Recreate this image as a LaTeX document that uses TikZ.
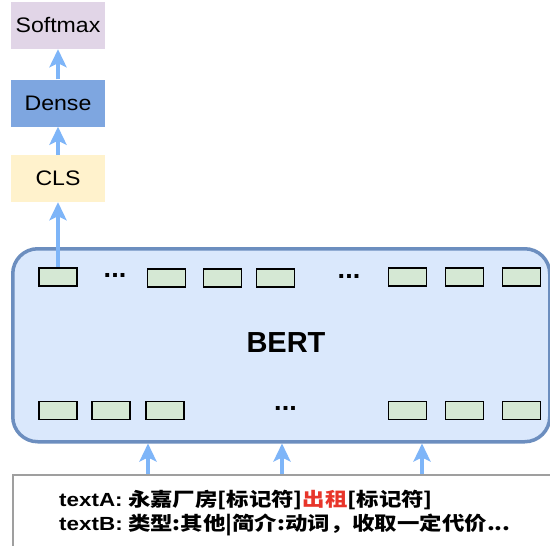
\documentclass[tikz,border=0pt]{standalone}
\usepackage{fontspec}
\usepackage{xcolor}
\setmainfont{Liberation Sans}
\newfontfamily\zhfont{Noto Sans CJK SC}[FakeStretch=1.18]
\newfontfamily\latwide{Liberation Sans}[FakeStretch=1.18]
\newfontfamily\headfont{Liberation Sans}[FakeStretch=1.1]
\usetikzlibrary{arrows.meta}
\definecolor{smaxfill}{HTML}{E1D5E7}
\definecolor{densefill}{HTML}{7EA6E0}
\definecolor{clsfill}{HTML}{FFF2CC}
\definecolor{bertfill}{HTML}{DAE8FC}
\definecolor{bertline}{HTML}{6C8EBF}
\definecolor{tokfill}{HTML}{D5E8D4}
\definecolor{arrowblue}{HTML}{7EB5F8}
\definecolor{hotred}{HTML}{E8352A}

\begin{document}
\begin{tikzpicture}[x=1pt, y=-1pt,
  head/.style={fill, minimum width=94pt, minimum height=47pt, inner sep=0pt, font=\headfont\fontsize{21}{21}\selectfont},
  tok/.style={draw, fill=tokfill, line width=1.6pt, minimum width=38pt, minimum height=18pt, inner sep=0pt},
  dots/.style={font=\fontsize{27}{27}\selectfont\bfseries, inner sep=0pt},
  arr/.style={-{Stealth[length=18pt, width=17pt, inset=4pt]}, line width=3.5pt, arrowblue}
]
\useasboundingbox[fill=white] (0,0) rectangle (550,546);
\node[head, fill=smaxfill] (smax) at (58,25.5) {Softmax};
\node[head, fill=densefill] (dense) at (58,103) {Dense};
\node[head, fill=clsfill] (cls) at (58,178.5) {CLS};
\node[draw=bertline, fill=bertfill, line width=3.5pt, rounded corners=25pt, anchor=north west,
  minimum width=537pt, minimum height=193pt] (bert) at (11,247) {};
\node[font=\fontsize{29}{29}\selectfont\bfseries] (bertlbl) at (286,343) {BERT};
\node[tok] (t1) at (58,277) {};
\node[dots] (td1) at (115,275) {...};
\node[tok] (t2) at (166.5,278) {};
\node[tok] (t3) at (222.5,278) {};
\node[tok] (t4) at (275.5,278) {};
\node[dots] (td2) at (349,276) {...};
\node[tok] (t5) at (407.5,277) {};
\node[tok] (t6) at (464.5,277) {};
\node[tok] (t7) at (521.5,277) {};
\node[tok] (b1) at (58,410.5) {};
\node[tok] (b2) at (111,410.5) {};
\node[tok] (b3) at (165,410.5) {};
\node[dots] (bd) at (285.5,408) {...};
\node[tok] (b4) at (407.5,410.5) {};
\node[tok] (b5) at (464.5,410.5) {};
\node[tok] (b6) at (521.5,410.5) {};
\node[draw=gray!75, line width=1.5pt, anchor=north west, minimum width=560pt, minimum height=100pt] (inbox) at (12,474) {};
\node[anchor=north west, inner sep=0pt, align=left, font=\fontsize{19}{24}\selectfont\bfseries] (intext) at (59,490)
  {{\latwide textA:} \zhfont 永嘉厂房[标记符]\textcolor{hotred}{出租}[标记符]\\
   {\latwide textB:} \zhfont 类型:其他|简介:动词，收取一定代价...};
\coordinate (inA) at (148,474);
\coordinate (inB) at (282,474);
\coordinate (inC) at (422,474);
\draw[arr] (inA) -- (inA |- bert.south);
\draw[arr] (inB) -- (inB |- bert.south);
\draw[arr] (inC) -- (inC |- bert.south);
\draw[arr] (t1.north) -- (cls.south);
\draw[arr] (cls) -- (dense);
\draw[arr] (dense) -- (smax);
\end{tikzpicture}
\end{document}
